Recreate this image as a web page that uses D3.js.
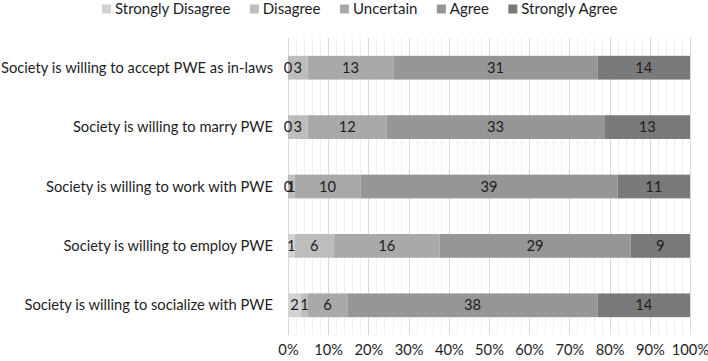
<!DOCTYPE html>
<html lang="en">
<meta charset="utf-8">
<head>
    <script src="https://d3js.org/d3.v7.min.js"></script>
    <style>
        body { margin: 0; background: #fff; }
        text { font-family: Lato, "Open Sans", sans-serif; fill: #1e1e1e; }
    </style>
</head>
<body>
<script>
    // statements, top to bottom
    var categories = [
        "Society is willing to accept PWE as in-laws",
        "Society is willing to marry PWE",
        "Society is willing to work with PWE",
        "Society is willing to employ PWE",
        "Society is willing to socialize with PWE"
    ];
    var levels = ["Strongly Disagree", "Disagree", "Uncertain", "Agree", "Strongly Agree"];
    var stronglyDisagree = [0, 0, 0, 1, 2];
    var disagree = [3, 3, 1, 6, 1];
    var uncertain = [13, 12, 10, 16, 6];
    var agree = [31, 33, 39, 29, 38];
    var stronglyAgree = [14, 13, 11, 9, 14];
    var tickValues = [0, 0.1, 0.2, 0.3, 0.4, 0.5, 0.6, 0.7, 0.8, 0.9, 1];

    var colors = ["#d2d2d2", "#bdbdbd", "#a9a9a9", "#969696", "#7a7a7a"];

    var W = 708, H = 361;
    // note: "top" is taken by window.top, so use plot* names
    var plotLeft = 288, plotRight = 690, plotTop = 38, plotBottom = 335;
    var fs = "14.7px";

    var svg = d3.select("body").append("svg")
        .attr("width", W)
        .attr("height", H);

    // build rows
    var rows = categories.map(function(c, i) {
        var vals = [stronglyDisagree[i], disagree[i], uncertain[i], agree[i], stronglyAgree[i]];
        var total = d3.sum(vals);
        var cum = 0;
        var segs = vals.map(function(v, k) {
            var s = {cat: c, level: k, value: v, x0: cum / total, x1: (cum + v) / total};
            cum += v;
            return s;
        });
        return {cat: c, segs: segs};
    });

    var x = d3.scaleLinear().domain([0, 1]).range([plotLeft, plotRight]);
    var y = d3.scaleBand().domain(categories).range([plotTop, plotBottom]).paddingInner(0.6).paddingOuter(0.3);

    // minor gridlines every 2%
    var minor = d3.range(0, 1.0001, 0.02).filter(function(d) { return Math.round(d * 50) % 5 != 0; });
    svg.append("g").selectAll("line")
        .data(minor)
        .enter().append("line")
        .attr("x1", function(d) { return Math.round(x(d)) + 0.5; })
        .attr("x2", function(d) { return Math.round(x(d)) + 0.5; })
        .attr("y1", plotTop).attr("y2", plotBottom)
        .attr("stroke", "#efefef");

    // major gridlines
    svg.append("g").selectAll("line")
        .data(tickValues)
        .enter().append("line")
        .attr("x1", function(d) { return Math.round(x(d)) + 0.5; })
        .attr("x2", function(d) { return Math.round(x(d)) + 0.5; })
        .attr("y1", plotTop).attr("y2", plotBottom)
        .attr("stroke", "#d9d9d9");

    // bars
    var row = svg.selectAll(".row")
        .data(rows)
        .enter().append("g")
        .attr("class", "row");

    row.selectAll("rect")
        .data(function(d) { return d.segs; })
        .enter().append("rect")
        .attr("x", function(d) { return x(d.x0); })
        .attr("width", function(d) { return x(d.x1) - x(d.x0); })
        .attr("y", function(d) { return y(d.cat); })
        .attr("height", y.bandwidth())
        .attr("fill", function(d) { return colors[d.level]; });

    row.selectAll(".val")
        .data(function(d) { return d.segs; })
        .enter().append("text")
        .attr("class", "val")
        .attr("x", function(d) { return (x(d.x0) + x(d.x1)) / 2; })
        .attr("y", function(d) { return y(d.cat) + y.bandwidth() / 2; })
        .attr("dy", "0.35em")
        .attr("text-anchor", "middle")
        .style("font-size", fs)
        .text(function(d) { return d.value; });

    // category labels
    svg.append("g").selectAll("text")
        .data(categories)
        .enter().append("text")
        .attr("x", plotLeft - 15)
        .attr("y", function(d) { return y(d) + y.bandwidth() / 2; })
        .attr("dy", "0.35em")
        .attr("text-anchor", "end")
        .style("font-size", fs)
        .text(function(d) { return d; });

    // x axis
    var xAxis = svg.append("g")
        .attr("transform", "translate(0," + (plotBottom + 7) + ")")
        .call(d3.axisBottom(x).tickValues(tickValues).tickFormat(d3.format(".0%")).tickSize(0));
    xAxis.select(".domain").remove();
    xAxis.selectAll("text")
        .style("font-family", "Lato, sans-serif")
        .style("font-size", fs)
        .attr("fill", "#1e1e1e");

    // legend
    var legend = svg.append("g").attr("transform", "translate(0,9)");
    var lx = 102;
    levels.forEach(function(l, k) {
        legend.append("rect")
            .attr("x", lx).attr("y", -4.5)
            .attr("width", 9).attr("height", 9)
            .attr("fill", colors[k]);
        var t = legend.append("text")
            .attr("x", lx + 13)
            .attr("dy", "0.35em")
            .style("font-size", "15px")
            .text(l);
        lx += 13 + t.node().getComputedTextLength() + 19.5;
    });
</script>
</body>
</html>
